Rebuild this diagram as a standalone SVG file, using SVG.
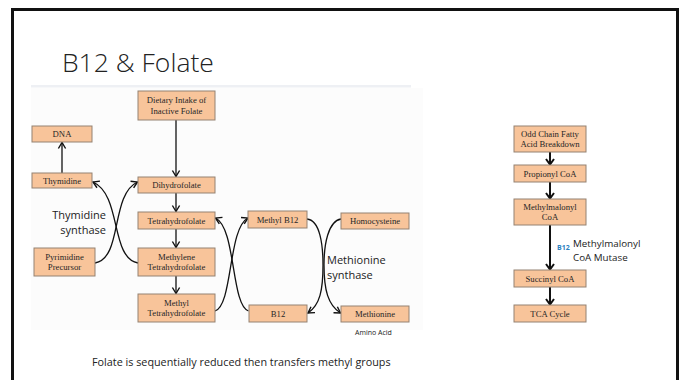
<svg xmlns="http://www.w3.org/2000/svg" width="680" height="380" viewBox="0 0 680 380">
<defs>
<style>
.box rect{fill:#f8c49a;stroke:#948272;stroke-width:1}
.box text{font-family:"Liberation Serif","Times New Roman",serif;font-size:8.7px;fill:#262626;text-anchor:middle}
.lbl{font-family:"Open Sans","Liberation Sans",sans-serif;fill:#222}
.conn path,.conn line{fill:none;stroke:#111;stroke-width:1.3}
.conn .thick{stroke-width:2}
</style>
<marker id="ah" viewBox="-7 -5 8 10" refX="0" refY="0" markerWidth="8" markerHeight="10" orient="auto" markerUnits="userSpaceOnUse">
<path d="M-6,-3.6 L0,0 L-6,3.6" fill="none" stroke="#111" stroke-width="1.4"/>
</marker>
<marker id="ahb" viewBox="-7 -5 8 10" refX="0" refY="0" markerWidth="8" markerHeight="10" orient="auto" markerUnits="userSpaceOnUse">
<path d="M-5.5,-4 L0,0 L-5.5,4" fill="none" stroke="#111" stroke-width="2"/>
</marker>
</defs>
<rect x="0" y="0" width="680" height="380" fill="#fff"/>
<rect x="12.5" y="9.5" width="665" height="400" fill="none" stroke="#111" stroke-width="3"/>
<text x="62" y="72" class="lbl" font-size="26.5" font-weight="300">B12 &amp; Folate</text>
<rect x="31" y="85" width="380" height="2.5" fill="#eef0f4"/>
<rect x="31" y="88" width="392" height="242" fill="#fcfcfc"/>

<g class="conn">
<line x1="176" y1="120" x2="176" y2="176.5" marker-end="url(#ah)"/>
<line x1="62" y1="173" x2="62" y2="142.5" marker-end="url(#ah)"/>
<line x1="176" y1="193" x2="176" y2="211.5" marker-end="url(#ah)"/>
<line x1="176" y1="229" x2="176" y2="247.5" marker-end="url(#ah)"/>
<line x1="176" y1="276" x2="176" y2="293.5" marker-end="url(#ah)"/>
<path d="M138,263 C110,258 122,195 93,182" marker-end="url(#ah)"/>
<path d="M95,263 C123,258 110,195 137.5,182" marker-end="url(#ah)"/>
<path d="M215,311 C233,305 228,228 248,218" marker-end="url(#ah)"/>
<path d="M248.5,311 C231,305 236,228 215.5,218" marker-end="url(#ah)"/>
<path d="M307,219 C320,220 323,245 323,265 C323,290 320,305 308,313" marker-end="url(#ah)"/>
<path d="M341,219 C328,221 324,245 324,265 C324,290 328,305 340.5,313" marker-end="url(#ah)"/>
<line class="thick" x1="550" y1="152" x2="550" y2="164.5" marker-end="url(#ahb)"/>
<line class="thick" x1="550" y1="182" x2="550" y2="198.5" marker-end="url(#ahb)"/>
<line class="thick" x1="550" y1="225" x2="550" y2="269.5" marker-end="url(#ahb)"/>
<line class="thick" x1="550" y1="287" x2="550" y2="304.5" marker-end="url(#ahb)"/>
</g>

<g id="dietary" class="box"><rect x="138" y="91" width="77" height="29"/><text x="176.5" y="103">Dietary Intake of</text><text x="176.5" y="114">Inactive Folate</text></g>
<g id="dna" class="box"><rect x="32" y="126" width="60" height="16"/><text x="62" y="137">DNA</text></g>
<g id="thymidine" class="box"><rect x="32" y="173" width="60" height="15"/><text x="62" y="183.5">Thymidine</text></g>
<g id="dihydrofolate" class="box"><rect x="138" y="177" width="77" height="16"/><text x="176.5" y="188">Dihydrofolate</text></g>
<g id="tetrahydrofolate" class="box"><rect x="138" y="212" width="77" height="17"/><text x="176.5" y="223.5">Tetrahydrofolate</text></g>
<g id="methylene" class="box"><rect x="138" y="248" width="77" height="28"/><text x="176.5" y="259.5">Methylene</text><text x="176.5" y="270">Tetrahydrofolate</text></g>
<g id="methylthf" class="box"><rect x="138" y="294" width="77" height="28"/><text x="176.5" y="305.5">Methyl</text><text x="176.5" y="316">Tetrahydrofolate</text></g>
<g id="pyrimidine" class="box"><rect x="34" y="248" width="61" height="28"/><text x="64.5" y="259.5">Pyrimidine</text><text x="64.5" y="270">Precursor</text></g>
<g id="methylb12" class="box"><rect x="248" y="211" width="59" height="17"/><text x="277.5" y="222.5">Methyl B12</text></g>
<g id="b12" class="box"><rect x="249" y="305" width="58" height="17"/><text x="278" y="316.5">B12</text></g>
<g id="homocysteine" class="box"><rect x="341" y="213" width="68" height="16"/><text x="375" y="224">Homocysteine</text></g>
<g id="methionine" class="box"><rect x="341" y="306" width="68" height="16"/><text x="375" y="317">Methionine</text></g>
<g id="oddchain" class="box"><rect x="514" y="126" width="72" height="26"/><text x="550" y="137">Odd Chain Fatty</text><text x="550" y="147">Acid Breakdown</text></g>
<g id="propionyl" class="box"><rect x="514" y="165" width="72" height="17"/><text x="550" y="176.5">Propionyl CoA</text></g>
<g id="methylmalonyl" class="box"><rect x="514" y="199" width="72" height="26"/><text x="550" y="210">Methylmalonyl</text><text x="550" y="220">CoA</text></g>
<g id="succinyl" class="box"><rect x="514" y="270" width="72" height="17"/><text x="550" y="281.5">Succinyl CoA</text></g>
<g id="tca" class="box"><rect x="514" y="305" width="72" height="17"/><text x="550" y="316.5">TCA Cycle</text></g>

<text class="lbl" font-size="11" text-anchor="end" x="106" y="219">Thymidine</text>
<text class="lbl" font-size="11" text-anchor="end" x="106" y="234">synthase</text>
<text class="lbl" font-size="11" x="327" y="264">Methionine</text>
<text class="lbl" font-size="11" x="327" y="279">synthase</text>
<text class="lbl" font-size="7" x="355" y="335">Amino Acid</text>
<text x="557" y="250" font-family="Open Sans, Liberation Sans, sans-serif" font-size="7" font-weight="bold" fill="#2c80c0">B12</text>
<text class="lbl" font-size="9.8" x="573" y="247">Methylmalonyl</text>
<text class="lbl" font-size="9.8" x="573" y="260.5">CoA Mutase</text>
<text class="lbl" font-size="10.8" x="92" y="366">Folate is sequentially reduced then transfers methyl groups</text>
</svg>
